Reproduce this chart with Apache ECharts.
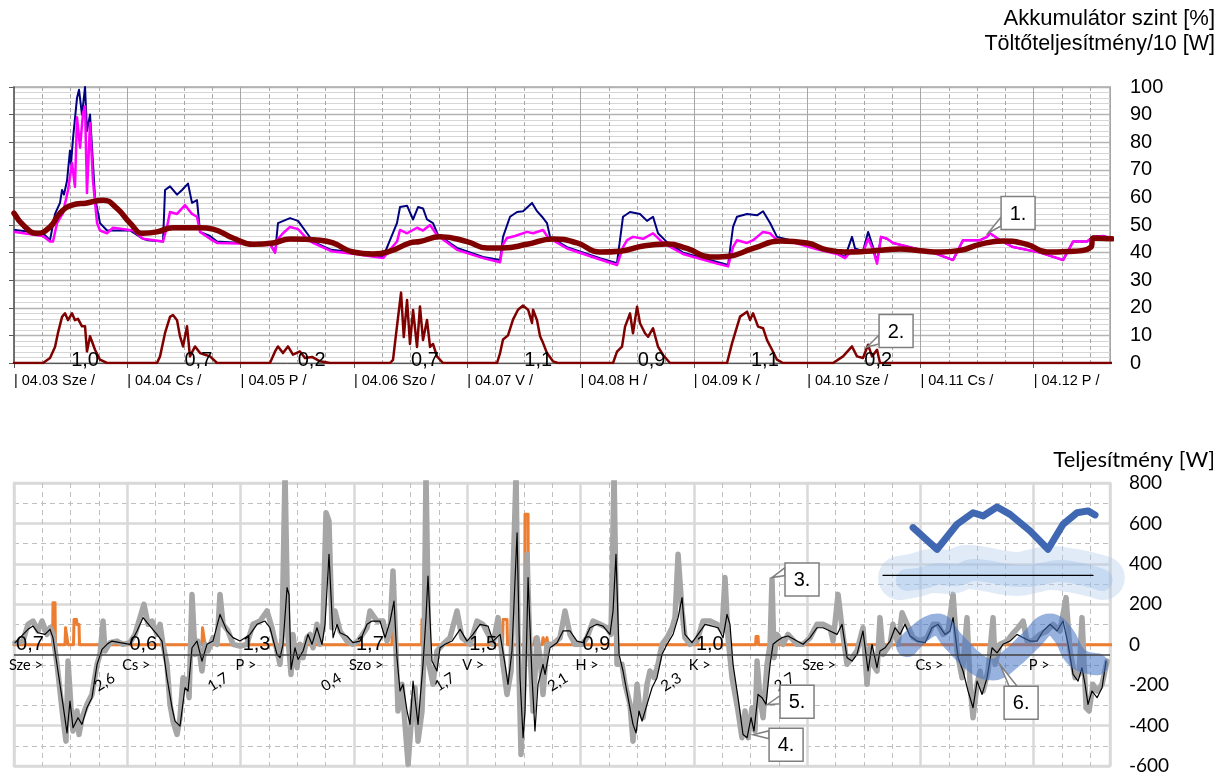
<!DOCTYPE html>
<html><head><meta charset="utf-8">
<script src="https://cdn.jsdelivr.net/npm/echarts@6/dist/echarts.min.js"></script>
<style>html,body{margin:0;padding:0;background:#fff}#c{width:1229px;height:776px}</style>
</head><body><div id="c"></div>
<script>
// ---------- DATA (x = days since 04.03 00:00) ----------
const topDayLabels = ['| 04.03 Sze /','| 04.04 Cs /','| 04.05 P /','| 04.06 Szo /','| 04.07 V /','| 04.08 H /','| 04.09 K /','| 04.10 Sze /','| 04.11 Cs /','| 04.12 P /'];
const topDailyCharge = ['1,0','0,7','0,2','0,7','1,1','0,9','1,1','0,2'];
const bottomDayLabels = ['Sze >','Cs >','P >','Szo >','V >','H >','K >','Sze >','Cs >','P >'];
const bottomDailyIn = ['0,7','0,6','1,3','1,7','1,5','0,9','1,0'];
const bottomDailyOut = ['2,6','1,7','0,4','1,7','2,1','2,3','2,7'];
const calloutTexts = ['1.','2.','3.','4.','5.','6.'];
const calloutAnchorsTop = [[8.597,47.1],[7.529,5.8]];
const calloutAnchorsBottom = [[6.690,332],[6.523,-445],[6.646,-297],[8.703,-99]];

const navyLevel = [
[0.009,48.2],[0.256,47],[0.318,44.5],[0.362,54],[0.406,58],[0.424,62.7],[0.441,61],[0.468,66],[0.494,77],[0.503,72],[0.521,81.5],[0.556,96],[0.574,99],[0.600,90],[0.627,100],[0.644,84],[0.671,90],[0.715,60],[0.759,50.7],[0.821,48],[0.909,48],[1.024,48],[1.139,45],[1.183,44.5],[1.315,44],
[1.333,62.7],[1.377,64],[1.439,61],[1.483,62.7],[1.536,65],[1.571,58],[1.615,59],[1.642,47.5],[1.730,46],[1.792,44],[2.000,43.5],[2.259,43.5],[2.304,40],
[2.330,50.7],[2.436,52.5],[2.507,51.5],[2.586,47],[2.639,44],[2.800,41],[3.010,40],[3.257,38.4],
[3.380,50.7],[3.407,56.5],[3.469,57],[3.522,52],[3.566,56.5],[3.610,56],[3.645,52],[3.698,50.7],[3.742,46.4],[3.910,41.7],[4.140,38.4],[4.290,37.3],
[4.316,45.7],[4.378,53],[4.440,54.7],[4.493,55],[4.572,58],[4.616,55],[4.660,53],[4.704,50.7],[4.731,45.7],[4.881,42],[5.172,38],[5.322,36.2],
[5.375,53],[5.437,54.7],[5.525,54],[5.587,51.5],[5.640,53],[5.684,47],[5.763,43.8],[5.905,40],[6.205,36.6],[6.302,35.5],
[6.346,49.3],[6.381,53],[6.470,54],[6.558,53.5],[6.611,55],[6.673,50.7],[6.734,45.7],[6.900,44],[7.087,41.7],[7.264,40],[7.335,38.4],
[7.396,45.7],[7.423,41.5],[7.493,40.5],[7.538,47.5],[7.582,42],[7.617,36.6],[7.652,45.7],[7.705,45],[7.758,43.5],[7.935,41.7],[8.111,40],[8.288,37.3],[8.376,44.5],[8.526,44.5],[8.588,45.7],[8.614,47],[8.703,44.5],[8.817,42],[9.056,40],[9.259,37.3],[9.347,44],[9.470,44],[9.523,45.7],[9.612,46],[9.691,45]
];
const magentaLevel = [
[0.009,47.5],[0.256,46],[0.318,44],[0.344,44],[0.380,50.7],[0.432,54.3],[0.477,62.7],[0.512,72.5],[0.538,63.8],[0.556,89],[0.583,78],[0.609,90.5],[0.627,93],[0.644,61.6],[0.671,87],[0.697,66],[0.733,50.7],[0.759,48],[0.821,47],[0.874,49],[1.050,48],[1.139,45],[1.315,44],
[1.350,49.3],[1.377,54.7],[1.439,54],[1.509,57.2],[1.571,54],[1.615,53],[1.642,47.5],[1.730,45],[1.792,43.5],[2.259,43],[2.304,40],
[2.321,44.5],[2.374,47],[2.436,49.3],[2.507,48.5],[2.586,45],[2.639,43.5],[2.800,40.5],[3.010,39.5],[3.257,38],
[3.380,44],[3.407,48.2],[3.469,47],[3.557,49],[3.610,48],[3.672,50],[3.733,46.4],[3.910,41],[4.140,38],[4.290,36.5],
[4.316,43],[4.351,45.3],[4.422,46],[4.528,47.5],[4.581,47],[4.669,48.2],[4.713,45.5],[4.881,41.5],[5.172,37.5],[5.322,35.5],
[5.375,42],[5.411,44.5],[5.463,45.7],[5.552,45],[5.640,47],[5.728,43.5],[5.905,39.5],[6.205,36],[6.302,35],
[6.346,42],[6.381,44.5],[6.470,43.5],[6.523,44.5],[6.611,47.5],[6.673,47],[6.734,44.5],[6.900,43.5],[7.087,41.2],[7.264,39.5],[7.335,38],
[7.396,41],[7.440,40.5],[7.493,40],[7.538,45],[7.582,41],[7.617,36],[7.652,45.7],[7.705,45],[7.758,43.5],[7.935,41.7],[8.111,40],[8.288,37.3],[8.376,44.5],[8.526,44.5],[8.588,45.7],[8.614,47],[8.703,44.5],[8.817,42],[9.056,40],[9.259,37.3],[9.347,44],[9.470,44],[9.523,45.7],[9.612,46],[9.691,45]
];
const levelAverage = [
[0,54.3],[0.097,49.3],[0.203,47],[0.318,49.3],[0.406,54.3],[0.512,57.2],[0.644,58],[0.786,59],[0.909,56],[1.024,50.7],[1.139,47],[1.262,47.5],[1.403,49],[1.642,49],[1.756,48.5],[1.933,45.3],[2.109,43],[2.286,43.5],[2.436,44.9],[2.701,44.5],[2.816,43.5],[2.992,40.2],[3.169,39.5],[3.319,40.5],[3.495,43.5],[3.583,44],[3.760,45.7],[3.998,44],[4.175,41.7],[4.316,41.7],[4.528,43],[4.757,44.9],[4.969,43.5],[5.172,40.2],[5.349,40.5],[5.552,42.4],[5.763,43.1],[5.940,41.5],[6.143,38.4],[6.293,38.6],[6.523,41.5],[6.761,44.2],[6.999,43.5],[7.176,41],[7.405,40.2],[7.617,40.8],[7.820,41.3],[7.996,40.7],[8.173,40.2],[8.350,40.8],[8.526,43],[8.729,44.2],[8.941,43],[9.117,40.2],[9.294,40.4],[9.505,42],[9.523,45.3],[9.691,45]
];
const chargeDiv10 = [
[0,0],[0.256,0],[0.318,1.8],[0.362,5.8],[0.388,10.9],[0.424,16.7],[0.450,18],[0.477,15.5],[0.512,18],[0.538,15.5],[0.565,16],[0.600,13.3],[0.627,13.3],[0.644,4.2],[0.671,9.7],[0.715,4.8],[0.759,1.2],[0.821,0],
[1.262,0],[1.289,2.4],[1.333,10.9],[1.377,16.7],[1.403,17.4],[1.439,15.5],[1.465,9.7],[1.492,6],[1.527,13.3],[1.553,2.4],[1.598,6],[1.642,3.6],[1.686,3],[1.730,2.4],[1.792,0],
[2.259,0],[2.304,4.2],[2.330,6],[2.374,3.6],[2.418,6],[2.462,3],[2.524,4.2],[2.568,1.8],[2.630,2.2],[2.701,0.6],[2.789,0],
[3.319,0],[3.345,1.1],[3.380,13.3],[3.416,25.5],[3.440,9.4],[3.469,22.8],[3.495,6.9],[3.522,19.2],[3.557,5.8],[3.583,20.5],[3.610,8.3],[3.645,15.6],[3.672,5.8],[3.698,6.9],[3.733,2.4],[3.786,0],
[4.263,0],[4.290,3.6],[4.316,8.5],[4.360,10],[4.404,15.7],[4.448,19.3],[4.493,20.8],[4.537,19.3],[4.572,14.5],[4.581,19.3],[4.616,15.5],[4.643,9.7],[4.669,7.3],[4.704,3.6],[4.757,0.6],[4.801,0],
[5.287,0],[5.322,4.1],[5.366,5.9],[5.393,13.2],[5.437,18],[5.463,10.8],[5.499,20.4],[5.525,14.4],[5.569,10.8],[5.596,9.5],[5.640,12.6],[5.684,5.9],[5.728,2.9],[5.790,0],
[6.293,0],[6.337,7.1],[6.364,10.8],[6.408,16.8],[6.470,18.6],[6.496,15.6],[6.523,18],[6.567,13.2],[6.611,12.6],[6.646,8.3],[6.690,4.8],[6.734,1.2],[6.787,0],
[7.229,0],[7.317,2.4],[7.396,6],[7.440,2.4],[7.493,1.8],[7.538,6.6],[7.573,2.4],[7.617,4.8],[7.643,0],[9.691,0]
];
const chargePower = [
[0,0],[0.340,0],[0.344,208],[0.362,208],[0.366,0],[0.450,0],[0.455,84],[0.472,84],[0.477,0],[0.525,0],[0.530,125],[0.552,125],[0.556,100],[0.574,100],[0.578,0],
[1.659,0],[1.664,84],[1.680,84],[1.686,0],
[3.336,0],[3.340,365],[3.354,365],[3.358,0],
[3.597,0],[3.601,125],[3.619,125],[3.623,0],
[4.312,0],[4.316,125],[4.351,125],[4.356,0],
[4.506,0],[4.510,645],[4.537,645],[4.541,0],
[4.590,0],[4.598,35],[4.616,0],[4.660,0],[4.669,35],[4.687,0],[4.700,0],[4.704,35],[4.713,0],
[6.545,0],[6.549,41],[6.567,41],[6.571,0],
[6.682,0],[6.686,323],[6.699,323],[6.703,0],
[9.691,0]
];
const powerRaw = [
[0.009,10],[0.079,18],[0.124,101],[0.168,117],[0.212,68],[0.247,117],[0.291,51],[0.318,84],[0.344,51],[0.380,-97],[0.406,-229],[0.432,-361],[0.459,-477],[0.477,-81],[0.503,-312],[0.521,-427],[0.556,-328],[0.574,-444],[0.600,-361],[0.644,-295],[0.688,-246],[0.733,-97],[0.759,-48],[0.786,117],[0.803,-31],[0.847,10],[0.909,18],[0.962,2],[1.024,10],[1.068,51],[1.112,134],[1.147,200],[1.183,101],[1.218,117],[1.262,51],[1.289,101],[1.315,2],[1.350,-97],[1.377,-295],[1.403,-378],[1.439,-444],[1.465,-361],[1.492,-163],[1.527,-180],[1.545,-262],[1.571,249],[1.598,-48],[1.624,18],[1.659,-130],[1.686,2],[1.712,-31],[1.756,35],[1.792,2],[1.818,249],[1.845,101],[1.889,68],[1.933,2],[1.995,-7],[2.056,2],[2.109,101],[2.171,117],[2.233,167],[2.277,84],[2.321,-31],[2.348,-97],
[2.365,35],[2.392,850],[2.418,35],[2.445,-147],[2.462,51],[2.498,-114],[2.524,2],[2.551,-64],[2.586,35],[2.613,51],[2.639,-15],[2.674,101],[2.701,2],[2.727,101],[2.754,653],[2.780,612],[2.807,84],[2.833,167],[2.877,68],[2.939,18],[2.992,2],[3.036,18],[3.116,84],[3.142,167],[3.204,117],[3.257,117],[3.292,18],[3.319,68],[3.345,365],[3.372,-31],[3.389,-328],[3.425,-196],[3.451,-394],[3.478,-592],[3.513,-328],[3.539,-213],[3.566,-477],[3.601,-328],[3.619,-31],[3.636,850],[3.663,-97],[3.698,-196],[3.733,-31],[3.786,2],[3.848,35],[3.910,167],[3.954,35],[4.025,2],[4.087,117],[4.139,101],[4.201,35],[4.228,2],[4.272,134],[4.316,-97],[4.351,-246],[4.387,-130],[4.404,332],[4.431,850],[4.448,68],[4.475,-543],[4.501,-196],[4.528,447],[4.554,-31],[4.581,-328],[4.616,35],[4.643,-64],[4.669,-246],[4.704,2],
[4.757,2],[4.819,35],[4.863,167],[4.907,51],[4.951,2],[5.013,2],[5.057,35],[5.110,117],[5.172,101],[5.234,84],[5.269,51],[5.296,850],[5.322,-97],[5.366,-97],[5.393,-196],[5.437,-295],[5.463,-477],[5.499,-196],[5.525,-328],[5.552,-361],[5.587,-196],[5.613,-130],[5.649,-163],[5.684,-97],[5.719,2],[5.763,35],[5.808,84],[5.834,134],[5.861,447],[5.896,167],[5.922,35],[5.966,2],[6.028,18],[6.081,117],[6.143,117],[6.205,101],[6.249,68],[6.275,332],[6.302,35],[6.337,-163],[6.364,-246],[6.390,-328],[6.425,-460],[6.452,-328],[6.478,-460],[6.514,-312],[6.540,-427],[6.558,-81],[6.584,-262],[6.611,-361],[6.646,-97],[6.673,2],[6.690,323],[6.708,-64],[6.734,51],[6.787,2],[6.831,51],[6.911,2],[6.964,2],
[7.026,35],[7.087,101],[7.140,101],[7.202,84],[7.229,18],[7.273,249],[7.308,84],[7.352,-97],[7.396,-64],[7.440,-31],[7.493,84],[7.529,-196],[7.555,-15],[7.582,-97],[7.617,-130],[7.643,134],[7.670,-48],[7.732,2],[7.758,101],[7.802,2],[7.838,158],[7.882,101],[7.935,35],[7.996,18],[8.058,35],[8.111,101],[8.155,101],[8.200,51],[8.244,68],[8.288,249],[8.323,-31],[8.367,-163],[8.411,134],[8.438,-196],[8.464,-361],[8.500,-196],[8.526,-130],[8.553,-229],[8.597,-130],[8.641,134],[8.658,-97],[8.703,2],[8.764,18],[8.809,51],[8.862,84],[8.906,117],[8.941,18],[8.985,18],[9.056,51],[9.117,68],[9.170,101],[9.232,68],[9.285,233],[9.320,-31],[9.365,-163],[9.400,-147],[9.426,134],[9.462,-312],[9.488,-328],[9.523,-196],[9.559,-229],[9.603,-196],[9.647,-81]
];
const powerSmooth = [
[0.009,10],[0.124,76],[0.168,92],[0.212,59],[0.274,51],[0.318,76],[0.344,35],[0.388,-130],[0.432,-295],[0.468,-436],[0.494,-279],[0.521,-411],[0.565,-361],[0.600,-394],[0.644,-312],[0.688,-262],[0.733,-97],[0.777,-23],[0.821,2],[0.865,18],[0.936,10],[1.024,2],[1.086,68],[1.139,134],[1.200,92],[1.262,51],[1.306,18],[1.350,-163],[1.395,-312],[1.421,-378],[1.465,-403],[1.509,-213],[1.536,-229],[1.571,-15],[1.615,18],[1.659,-81],[1.703,2],[1.756,18],[1.818,150],[1.880,68],[1.933,35],[1.995,18],[2.083,51],[2.145,101],[2.215,117],[2.259,84],[2.321,-48],
[2.348,-64],[2.374,2],[2.410,282],[2.427,249],[2.445,-122],[2.480,-15],[2.507,-73],[2.551,-31],[2.595,51],[2.630,2],[2.674,84],[2.718,2],[2.745,101],[2.780,447],[2.816,35],[2.851,101],[2.877,59],[2.939,43],[2.992,10],[3.054,18],[3.116,101],[3.160,117],[3.230,117],[3.275,35],[3.319,117],[3.354,216],[3.380,-64],[3.407,-229],[3.433,-196],[3.469,-328],[3.495,-394],[3.522,-180],[3.566,-394],[3.610,-97],[3.636,134],[3.654,340],[3.689,-81],[3.733,-130],[3.760,-15],[3.804,2],[3.866,18],[3.937,76],[3.998,18],[4.051,51],[4.113,101],[4.184,92],[4.228,18],[4.290,51],[4.334,-97],[4.360,-196],[4.395,-31],[4.440,554],[4.466,-163],[4.493,-460],[4.510,-328],[4.537,332],[4.572,-163],[4.598,-427],[4.625,-196],[4.669,-97],
[4.687,-147],[4.731,-15],[4.793,10],[4.846,68],[4.907,68],[4.969,18],[5.022,10],[5.084,84],[5.146,101],[5.199,92],[5.260,51],[5.287,167],[5.313,447],[5.340,-48],[5.375,-130],[5.419,-262],[5.463,-394],[5.490,-436],[5.516,-328],[5.543,-378],[5.587,-295],[5.631,-213],[5.675,-163],[5.719,-48],[5.763,2],[5.817,51],[5.861,134],[5.896,233],[5.922,51],[5.984,10],[6.037,51],[6.099,101],[6.161,92],[6.214,84],[6.258,35],[6.293,150],[6.319,101],[6.346,-97],[6.390,-262],[6.434,-444],[6.470,-460],[6.505,-361],[6.531,-427],[6.567,-246],[6.602,-262],[6.637,-295],[6.673,-97],[6.699,2],[6.734,18],[6.778,35],[6.831,43],[6.911,18],[6.964,2],[7.026,35],[7.087,84],
[7.140,84],[7.202,68],[7.264,51],[7.308,101],[7.352,-64],[7.396,-81],[7.440,-48],[7.493,68],[7.538,-130],[7.573,2],[7.617,-114],[7.643,-31],[7.688,-15],[7.732,18],[7.776,84],[7.820,51],[7.864,101],[7.908,43],[7.970,18],[8.041,10],[8.102,84],[8.155,101],[8.217,51],[8.261,68],[8.288,134],[8.332,-64],[8.376,-130],[8.420,-229],[8.464,-312],[8.500,-180],[8.544,-246],[8.588,-163],[8.632,-15],[8.676,-40],[8.729,2],[8.791,18],[8.853,51],[8.906,35],[8.967,18],[9.029,18],[9.082,68],[9.144,101],[9.206,68],[9.259,117],[9.303,2],[9.347,-147],[9.391,-180],[9.426,-114],[9.453,-196],[9.479,-295],[9.514,-229],[9.559,-262],[9.603,-213],[9.638,-81]
];
const sketchWave = [[7.935,579],[8.147,472],[8.323,596],[8.464,653],[8.553,637],[8.676,681],[8.791,645],[8.967,563],[9.126,472],[9.259,596],[9.382,653],[9.479,662],[9.541,642]];
const sketchCloudOuter = [[7.82,330],[7.96,345],[8.11,365],[8.26,360],[8.41,385],[8.56,375],[8.70,360],[8.85,350],[9.00,365],[9.15,380],[9.30,370],[9.45,355],[9.61,330]];
const sketchCloudInner = [[7.88,320],[8.02,330],[8.17,350],[8.32,345],[8.47,370],[8.62,360],[8.77,345],[8.92,340],[9.07,350],[9.22,365],[9.37,355],[9.52,335],[9.60,320]];
const sketchCloudLine = [[7.670,343],[9.523,343]];
const sketchBand = [[7.882,-7],[8.147,100],[8.288,18],[8.500,-97],[8.641,-122],[8.791,-73],[8.967,18],[9.144,100],[9.259,51],[9.382,-64],[9.559,-97]];
const dayBaseline = -50;

// ---------- CHART ----------
const AR = '"Liberation Sans", Arial, sans-serif';
const CA = 'Lato, "Open Sans", sans-serif';
const X_MAX = 9.673;
const chart = echarts.init(document.getElementById('c'), null, {renderer:'canvas'});

function textSeries(xi, yi, points, texts, o) {
  return {
    type:'custom', xAxisIndex:xi, yAxisIndex:yi, coordinateSystem:'cartesian2d', silent:true, z:15, clip:false,
    data: points,
    renderItem: (params, api) => {
      const p = api.coord([api.value(0), api.value(1)]);
      return {type:'text', x:p[0]+(o.dx||0), y:p[1]+(o.dy||0), rotation:o.rot||0,
        style:{text:texts[params.dataIndex], fill:'#000', fontSize:o.fs, fontFamily:o.ff,
               align:o.align||'center', verticalAlign:o.va||'middle'}};
    }
  };
}
function calloutSeries(xi, yi, anchors, texts, offs) {
  return {
    type:'custom', xAxisIndex:xi, yAxisIndex:yi, coordinateSystem:'cartesian2d', silent:true, z:20, clip:false,
    data: anchors,
    renderItem: (params, api) => {
      const p = api.coord([api.value(0), api.value(1)]);
      const o = offs[params.dataIndex];
      const w = 34, h = 33, bx = p[0]+o[0], by = p[1]+o[1];
      let q1, q2;
      if (o[2] === 'top') { q1 = [bx+o[3], by-h/2]; q2 = [bx+o[4], by-h/2]; }
      else { q1 = [bx-w/2, by+o[3]]; q2 = [bx-w/2, by+o[4]]; }
      return {type:'group', children:[
        {type:'polygon', shape:{points:[p,q1,q2]}, style:{fill:'#fff', stroke:'#7f7f7f', lineWidth:1.5}},
        {type:'rect', shape:{x:bx-w/2, y:by-h/2, width:w, height:h}, style:{fill:'#fff', stroke:'#7f7f7f', lineWidth:1.5}},
        {type:'text', x:bx, y:by+1, style:{text:texts[params.dataIndex], fill:'#000', fontSize:20, fontFamily:AR, align:'center', verticalAlign:'middle'}}
      ]};
    }
  };
}
function line(xi, yi, data, color, width, extra) {
  return Object.assign({type:'line', xAxisIndex:xi, yAxisIndex:yi, data:data, symbol:'none', showSymbol:false, silent:true,
    lineStyle:{color:color, width:width, cap:'round', join:'round'}, emphasis:{disabled:true}}, extra||{});
}

const quarterAxis = (g, color, width, type) => ({gridIndex:g, type:'value', position:'bottom', min:0, max:X_MAX, interval:0.25,
  axisLine:{show:false}, axisTick:{show:false}, axisLabel:{show:false},
  splitLine:{show:true, lineStyle:{color:['rgba(0,0,0,0)',color,color,color], width:width, type:type}}});

const option = {
  animation:false,
  backgroundColor:'#fff',
  title:[
    {text:'Akkumulátor szint [%]', right:14, top:8, padding:0, textStyle:{fontSize:22, fontWeight:'normal', color:'#000', fontFamily:AR}},
    {text:'Töltőteljesítmény/10 [W]', right:14, top:33, padding:0, textStyle:{fontSize:21.5, fontWeight:'normal', color:'#000', fontFamily:AR}},
    {text:'Teljesítmény [W]', right:14, top:449, padding:0, textStyle:{fontSize:22, fontWeight:'normal', color:'#000', fontFamily:CA}}
  ],
  grid:[
    {left:14, right:119, top:87, height:276, show:true, borderColor:'#bfbfbf', borderWidth:2, outerBoundsMode:'none', containLabel:false},
    {left:14, right:119, top:483, height:283, show:true, borderColor:'#d9d9d9', borderWidth:2.5, outerBoundsMode:'none', containLabel:false}
  ],
  xAxis:[
    quarterAxis(0, '#a6a6a6', 1, [4,3]),
    {gridIndex:0, type:'value', position:'bottom', min:0, max:X_MAX, interval:1,
      axisLine:{show:true, onZero:false, lineStyle:{color:'#595959'}}, axisTick:{show:true, length:5, lineStyle:{color:'#595959'}},
      axisLabel:{show:true, align:'left', margin:10, fontSize:14.5, color:'#000', fontFamily:AR, showMaxLabel:false,
        formatter:v => Number.isInteger(v) && topDayLabels[v] ? topDayLabels[v] : ''},
      splitLine:{show:true, lineStyle:{color:'#a6a6a6', width:1}}},
    quarterAxis(1, '#bfbfbf', 1, [5,4]),
    {gridIndex:1, type:'value', position:'bottom', min:0, max:X_MAX, interval:1,
      axisLine:{show:false}, axisTick:{show:false}, axisLabel:{show:false},
      splitLine:{show:true, lineStyle:{color:'#d9d9d9', width:2.5}}}
  ],
  yAxis:[
    {gridIndex:0, type:'value', position:'right', min:0, max:100, interval:10,
      axisLine:{show:false}, axisTick:{show:false},
      axisLabel:{fontSize:20, color:'#000', margin:20, fontFamily:AR},
      splitLine:{show:true, lineStyle:{color:'#b3b3b3', width:1.3}},
      minorTick:{show:false, splitNumber:5}, minorSplitLine:{show:true, lineStyle:{color:'#d6d6d6', width:1}}},
    {gridIndex:0, type:'value', position:'left', min:0, max:100, interval:10,
      axisLine:{show:true, onZero:false, lineStyle:{color:'#595959', width:1.5}}, axisTick:{show:true, length:5, lineStyle:{color:'#595959'}},
      axisLabel:{show:false}, splitLine:{show:false}},
    {gridIndex:1, type:'value', position:'right', min:-600, max:800, interval:200,
      axisLine:{show:false}, axisTick:{show:false},
      axisLabel:{fontSize:19, color:'#000', margin:19, fontFamily:CA},
      splitLine:{show:true, lineStyle:{color:'#d9d9d9', width:2.5}},
      minorTick:{show:false, splitNumber:2}, minorSplitLine:{show:true, lineStyle:{color:'#bfbfbf', width:1, type:[5,4]}}}
  ],
  series:[
    // top
    line(1, 0, navyLevel, '#000080', 2),
    line(1, 0, magentaLevel, '#ff00ff', 2.5),
    line(1, 0, levelAverage, '#800000', 5.5, {smooth:0.5}),
    line(1, 0, chargeDiv10, '#800000', 2.5),
    textSeries(1, 0, topDailyCharge.map((t,i)=>[i+0.627, 0]), topDailyCharge, {fs:20, ff:AR, dy:-3}),
    calloutSeries(1, 0, calloutAnchorsTop, calloutTexts.slice(0,2), [[30,-20,'left',4,13],[29,-16,'left',4,13]]),
    // bottom
    line(3, 2, chargePower, '#ed7d31', 3),
    line(3, 2, powerRaw, '#a6a6a6', 5.5),
    line(3, 2, powerSmooth, '#000000', 1.2, {markLine:{silent:true, symbol:['none','none'], label:{show:false},
      lineStyle:{color:'#404040', width:1.5, type:'solid'}, emphasis:{disabled:true}, data:[{yAxis:dayBaseline}]}}),
    line(3, 2, sketchCloudOuter, 'rgba(175,203,235,0.38)', 44, {smooth:0.5}),
    line(3, 2, sketchCloudInner, 'rgba(150,185,228,0.35)', 22, {smooth:0.5}),
    line(3, 2, sketchCloudLine, '#000000', 1.2),
    line(3, 2, sketchBand, 'rgba(68,114,196,0.55)', 22, {smooth:0.45}),
    line(3, 2, sketchWave, '#4068b2', 7),
    textSeries(3, 2, bottomDailyIn.map((t,i)=>[i+0.141, 0]), bottomDailyIn, {fs:20, ff:AR}),
    textSeries(3, 2, bottomDailyOut.map((t,i)=>[i+0.80, -185]), bottomDailyOut, {fs:15, ff:CA, rot:0.55}),
    textSeries(3, 2, bottomDayLabels.map((t,i)=>[i, dayBaseline]), bottomDayLabels, {fs:14.5, ff:CA, dx:-5, dy:11, align:'left'}),
    calloutSeries(3, 2, calloutAnchorsBottom, calloutTexts.slice(2), [[30,2,'left',-12,-4],[33,10,'left',-14,-6],[30,-3,'left',-6,2],[21,38,'top',-12,-4]])
  ]
};
chart.setOption(option);
</script>
</body></html>
